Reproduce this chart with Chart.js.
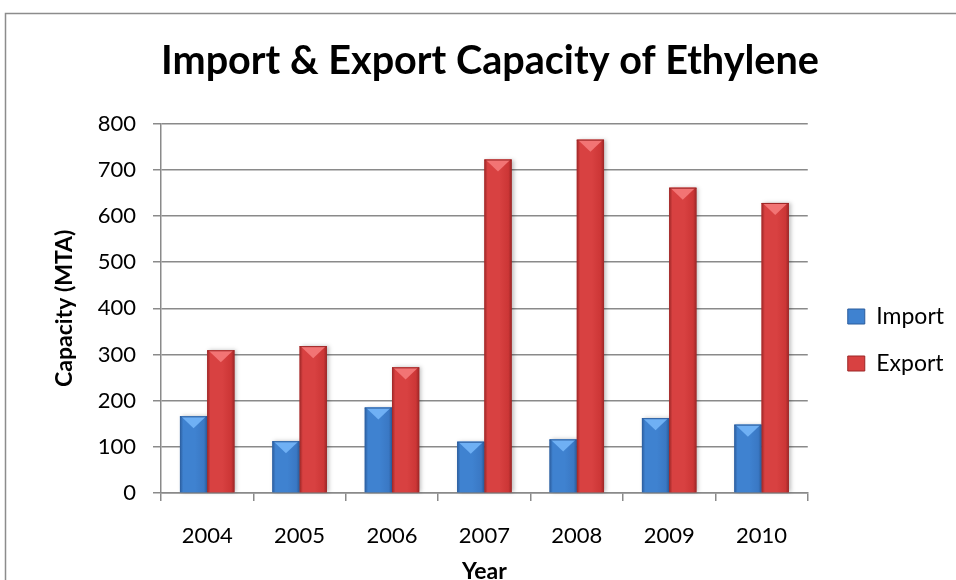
<!DOCTYPE html>
<html>
<head>
<meta charset="utf-8">
<script src="https://cdn.jsdelivr.net/npm/chart.js@4.4.1/dist/chart.umd.min.js"></script>
<style>
  html, body { margin: 0; padding: 0; background: #fff; }
  #wrap { position: relative; width: 956px; height: 580px; }
</style>
</head>
<body>
<div id="wrap"><canvas id="chart" width="956" height="580"></canvas></div>
<script>
const YEARS = ["2004", "2005", "2006", "2007", "2008", "2009", "2010"];
const IMPORT = [166, 112, 185, 111, 116, 162, 148];
const EXPORT = [309, 318, 272, 722, 765, 661, 628];
const Y_TICKS = [0, 100, 200, 300, 400, 500, 600, 700, 800];

const FONT = "Lato, 'Open Sans', sans-serif";
const GRID = "#8a8a8a";

// colour stops for the bevelled bar look: edge, centre, top chevron
const SHADES = {
  Import: { edge: "#2b5c9c", mid: "#3f82d0", cap: "#6fb0f4", base: "#3a78c4" },
  Export: { edge: "#9c2626", mid: "#d84141", cap: "#f27474", base: "#cc3636" },
};

Chart.defaults.font.family = FONT;
Chart.defaults.color = "#000";

// outer frame of the chart object
const frame = {
  id: "frame",
  beforeDraw(chart) {
    const { ctx } = chart;
    ctx.save();
    ctx.strokeStyle = "#8c8c8c";
    ctx.lineWidth = 1.5;
    ctx.strokeRect(5.5, 13.5, 1200, 900);
    ctx.restore();
  },
};

// wider gap between plot and legend than labels.padding gives; title sits a bit right of centre
const nudge = {
  id: "nudge",
  afterLayout(chart) {
    chart.legend.left += 16;
    chart.legend.right += 16;
    chart.titleBlock.left += 21;
    chart.titleBlock.right += 21;
  },
};

// repaint each bar with a horizontal gradient and a lighter chevron at the top
const bevel = {
  id: "bevel",
  afterDatasetsDraw(chart) {
    const { ctx } = chart;
    chart.data.datasets.forEach((ds, i) => {
      const s = SHADES[ds.label];
      chart.getDatasetMeta(i).data.forEach((bar) => {
        const { x, y, base, width } = bar.getProps(["x", "y", "base", "width"], true);
        const l = x - width / 2, r = x + width / 2;
        ctx.save();
        ctx.shadowColor = "rgba(0,0,0,0.25)";
        ctx.shadowBlur = 4;
        ctx.shadowOffsetX = 2;
        const g = ctx.createLinearGradient(l, 0, r, 0);
        g.addColorStop(0, s.edge);
        g.addColorStop(0.12, s.mid);
        g.addColorStop(0.55, s.mid);
        g.addColorStop(0.88, s.base);
        g.addColorStop(1, s.edge);
        ctx.fillStyle = g;
        ctx.fillRect(l, y, width, base - y);
        ctx.restore();

        // top chevron
        const h = Math.min(12, (base - y) / 2);
        ctx.save();
        ctx.fillStyle = s.cap;
        ctx.beginPath();
        ctx.moveTo(l + 1, y);
        ctx.lineTo(r - 1, y);
        ctx.lineTo(x, y + h);
        ctx.closePath();
        ctx.fill();
        ctx.fillStyle = s.edge;
        ctx.fillRect(l, y, width, 1);
        ctx.restore();
      });
    });
  },
};

const bars = (label, data) => ({
  label, data,
  backgroundColor: SHADES[label].base,
  borderWidth: 0,
  categoryPercentage: 0.59,
  barPercentage: 1.0,
});

new Chart(document.getElementById("chart"), {
  type: "bar",
  data: {
    labels: YEARS,
    datasets: [bars("Import", IMPORT), bars("Export", EXPORT)],
  },
  plugins: [frame, nudge, bevel],
  options: {
    responsive: false,
    animation: false,
    layout: { padding: { left: 0, right: 18, top: 0, bottom: 0 } },
    plugins: {
      title: {
        display: true,
        text: "Import & Export Capacity of Ethylene",
        font: { size: 39.6, weight: "bold" },
        padding: { top: 37, bottom: 39 },
      },
      legend: {
        position: "right",
        title: { display: true, text: " ", font: { size: 10 }, padding: { top: 88, bottom: 0 } },
        labels: {
          font: { size: 23 },
          boxWidth: 17,
          boxHeight: 15,
          padding: 24,
          generateLabels: (chart) => chart.data.datasets.map((ds, i) => ({
            text: ds.label,
            fillStyle: SHADES[ds.label].mid,
            strokeStyle: SHADES[ds.label].edge,
            lineWidth: 1,
            datasetIndex: i,
          })),
        },
      },
      tooltip: { enabled: false },
    },
    scales: {
      x: {
        afterFit: (s) => { s.height = 87; },
        grid: { drawOnChartArea: false, drawTicks: true, tickLength: 8, color: GRID, lineWidth: 1.5 },
        border: { display: true, color: GRID, width: 1.5 },
        ticks: { font: { size: 22 }, padding: 22 },
        title: { display: true, text: "Year", font: { size: 23, weight: "bold" }, padding: { top: 0, bottom: -5 } },
      },
      y: {
        min: 0,
        max: 800,
        afterFit: (s) => { s.width = 161; },
        afterBuildTicks: (s) => { s.ticks = Y_TICKS.map((v) => ({ value: v })); },
        grid: { color: GRID, lineWidth: 1.5, tickLength: 8 },
        border: { display: true, color: GRID, width: 1.5 },
        ticks: { font: { size: 22 }, padding: 17 },
        title: { display: true, text: "Capacity (MTA)", font: { size: 23, weight: "bold" }, padding: { top: 51, bottom: 0 } },
      },
    },
  },
});
</script>
</body>
</html>
